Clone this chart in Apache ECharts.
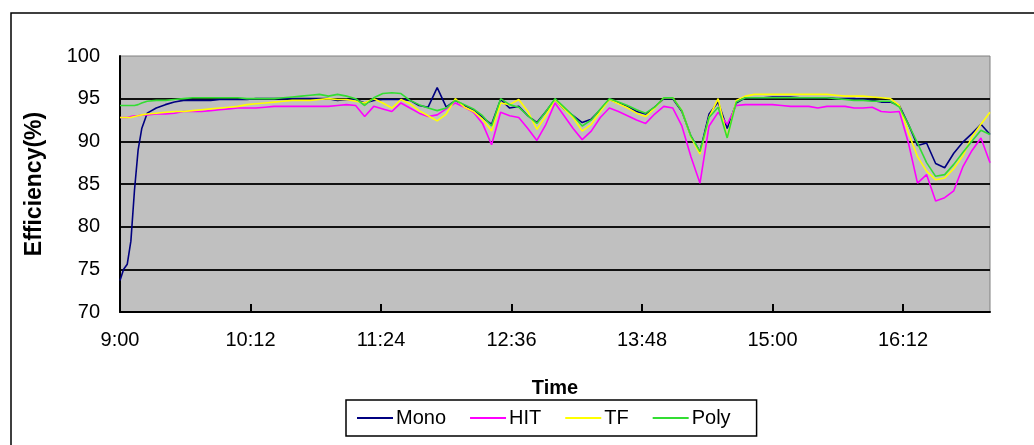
<!DOCTYPE html>
<html>
<head>
<meta charset="utf-8">
<script src="https://cdn.jsdelivr.net/npm/echarts@6/dist/echarts.min.js"></script>
<style>
html,body{margin:0;padding:0;background:#fff;}
#chart{width:1034px;height:445px;}
</style>
</head>
<body>
<div id="chart"></div>
<script>
// minutes after 9:00
var times = [0, 2, 4, 6, 8, 10, 12,
  15, 20, 25, 30, 35, 40, 45, 50, 55, 60,
  65, 70, 75, 80, 85, 90, 95, 100, 105, 110,
  115, 120, 125, 130, 135, 140, 145, 150, 155, 160,
  165, 170, 175, 180, 185, 190, 195, 200, 205, 210,
  215, 220, 225, 230, 235, 240, 245, 250, 255, 260,
  265, 270, 275, 280, 285, 290, 295, 300, 305, 310,
  315, 320, 325, 330, 335, 340, 345, 350, 355, 360,
  365, 370, 375, 380, 385, 390, 395, 400, 405, 410,
  415, 420, 425, 430, 435, 440, 445, 450, 455, 460,
  465, 470, 475, 480];

var mono = [73.7, 75.0, 75.6, 78.3, 84.3, 89.0, 91.5,
  93.3, 93.9, 94.3, 94.6, 94.8, 94.8, 94.8, 94.8, 94.9, 94.9,
  94.9, 94.9, 95.0, 95.0, 95.0, 95.0, 95.0, 95.0, 95.0, 95.0,
  95.0, 94.8, 94.9, 94.9, 94.5, 94.8, 94.9, 94.9, 94.9, 94.8,
  94.2, 94.0, 96.3, 94.0, 94.8, 94.2, 93.7, 92.8, 92.0, 94.9,
  93.9, 94.1, 93.0, 92.2, 93.5, 94.9, 93.8, 93.0, 92.2, 92.6,
  93.7, 94.9, 94.5, 94.1, 93.5, 93.2, 94.0, 95.0, 95.0, 93.5,
  90.6, 88.8, 93.2, 94.6, 91.5, 94.5, 95.1, 95.1, 95.1, 95.2,
  95.2, 95.2, 95.1, 95.1, 95.1, 95.1, 95.0, 95.0, 95.0, 94.9,
  94.8, 94.6, 94.6, 94.2, 92.0, 89.5, 89.8, 87.4, 86.9, 88.6,
  89.9, 90.9, 92.0, 90.8];

var hit = [92.8, 92.8, 92.8, 92.9, 93.0, 93.0, 93.1,
  93.1, 93.2, 93.2, 93.3, 93.5, 93.5, 93.5, 93.6, 93.7, 93.8,
  93.9, 93.9, 93.9, 94.0, 94.1, 94.1, 94.1, 94.1, 94.1, 94.1,
  94.1, 94.2, 94.3, 94.2, 92.9, 94.1, 93.8, 93.5, 94.5, 93.9,
  93.3, 92.9, 93.1, 93.8, 94.5, 94.0, 93.4, 92.1, 89.6, 93.4,
  93.0, 92.8, 91.5, 90.1, 92.0, 94.5, 93.0, 91.5, 90.2, 91.2,
  92.8, 93.9, 93.5, 93.0, 92.5, 92.1, 93.2, 94.1, 93.9, 91.8,
  88.2, 85.1, 91.8, 93.4, 92.0, 94.2, 94.3, 94.3, 94.3, 94.3,
  94.2, 94.1, 94.1, 94.1, 93.9, 94.1, 94.1, 94.1, 93.9, 93.9,
  94.0, 93.5, 93.4, 93.5, 89.8, 85.1, 86.1, 83.0, 83.4, 84.2,
  87.0, 88.9, 90.4, 87.5];

var tf = [92.8, 92.8, 92.8, 92.8, 92.9, 93.0, 93.1,
  93.2, 93.3, 93.4, 93.5, 93.5, 93.6, 93.7, 93.8, 93.9, 94.0,
  94.1, 94.3, 94.4, 94.5, 94.6, 94.7, 94.8, 94.8, 94.8, 94.9,
  95.0, 94.9, 94.9, 94.7, 94.5, 95.0, 94.5, 93.9, 94.9, 94.4,
  93.6, 93.0, 92.4, 93.2, 95.0, 94.0, 93.5, 92.6, 91.2, 94.5,
  94.3, 94.9, 93.5, 91.4, 93.0, 94.9, 93.8, 92.8, 91.2, 92.0,
  93.5, 94.9, 94.4, 93.9, 93.3, 92.9, 93.9, 95.1, 95.1, 93.6,
  90.5, 88.5, 92.8, 95.0, 90.4, 94.8, 95.3, 95.5, 95.5, 95.5,
  95.5, 95.5, 95.5, 95.5, 95.5, 95.5, 95.4, 95.3, 95.3, 95.3,
  95.2, 95.1, 95.0, 94.2, 91.0, 88.2, 86.5, 85.5, 85.7, 86.8,
  88.3, 90.5, 92.0, 93.4];

var poly = [94.2, 94.2, 94.2, 94.2, 94.2, 94.3, 94.5,
  94.7, 94.8, 94.8, 94.9, 95.0, 95.1, 95.1, 95.1, 95.1, 95.1,
  95.1, 95.0, 95.0, 95.0, 95.0, 95.1, 95.2, 95.3, 95.4, 95.5,
  95.3, 95.5, 95.3, 95.0, 94.2, 95.1, 95.6, 95.7, 95.6, 94.8,
  94.3, 93.9, 93.6, 93.9, 94.8, 94.3, 93.8, 93.0, 91.8, 95.0,
  94.3, 94.0, 93.0, 92.1, 93.5, 95.0, 94.0, 93.0, 91.8, 92.5,
  93.8, 95.0, 94.6, 94.2, 93.7, 93.3, 94.0, 95.1, 95.1, 93.6,
  90.6, 88.8, 92.8, 94.0, 90.4, 94.6, 95.1, 95.1, 95.1, 95.1,
  95.1, 95.1, 95.1, 95.1, 95.1, 95.1, 95.0, 94.9, 94.8, 94.8,
  94.7, 94.7, 94.7, 94.0, 92.0, 89.8, 87.5, 85.9, 86.1, 87.3,
  88.7, 90.0, 91.3, 90.8];

var seriesNames = ['Mono', 'HIT', 'TF', 'Poly'];
var seriesColors = ['#000080', '#ff00ff', '#ffff00', '#33dd33'];
var seriesValues = [mono, hit, tf, poly];

function pairs(vals) {
  return times.map(function (t, i) { return [t, vals[i]]; });
}
function fmtTime(v) {
  var h = 9 + Math.floor(v / 60);
  var m = Math.round(v % 60);
  return h + ':' + (m < 10 ? '0' + m : m);
}

var FONT = 'Liberation Sans, Arial, sans-serif';
var chart = echarts.init(document.getElementById('chart'), null, {renderer: 'canvas'});
chart.setOption({
  animation: false,
  backgroundColor: '#ffffff',
  graphic: [{
    type: 'rect', z: -1,
    shape: {x: 11, y: 13, width: 1060, height: 480},
    style: {fill: 'none', stroke: '#000', lineWidth: 1.5}
  }],
  grid: {
    left: 120, right: 44, top: 56, bottom: 133,
    show: true, backgroundColor: '#c0c0c0', borderColor: '#808080', borderWidth: 1
  },
  legend: {
    data: seriesNames,
    left: 346, top: 400,
    icon: 'rect', itemWidth: 36, itemHeight: 2, itemGap: 24,
    borderColor: '#000', borderWidth: 1.5,
    padding: [8, 26, 8, 11],
    textStyle: {fontFamily: FONT, fontSize: 20, color: '#000', padding: [0, 0, 0, -2]}
  },
  xAxis: {
    type: 'value', min: 0, max: 480, interval: 72,
    name: 'Time', nameLocation: 'middle', nameGap: 66,
    nameTextStyle: {fontFamily: FONT, fontSize: 20, fontWeight: 'bold', color: '#000'},
    axisLine: {show: true, onZero: false, lineStyle: {color: '#000', width: 2}},
    axisTick: {show: true, inside: true, length: 8, lineStyle: {color: '#000', width: 2}},
    axisLabel: {fontFamily: FONT, fontSize: 20, color: '#000', margin: 18, showMaxLabel: false,
      formatter: fmtTime},
    splitLine: {show: false}
  },
  yAxis: {
    type: 'value', min: 70, max: 100, interval: 5,
    name: 'Efficiency(%)', nameLocation: 'middle', nameGap: 74, nameRotate: 90,
    nameTextStyle: {fontFamily: FONT, fontSize: 23, fontWeight: 'bold', color: '#000'},
    axisLine: {show: true, lineStyle: {color: '#000', width: 2}},
    axisTick: {show: false},
    axisLabel: {fontFamily: FONT, fontSize: 20, color: '#000', margin: 20},
    splitLine: {show: true, showMaxLine: false, showMinLine: false, lineStyle: {color: '#111', width: 2}}
  },
  series: seriesNames.map(function (n, i) {
    return {
      name: n, type: 'line', data: pairs(seriesValues[i]),
      showSymbol: false, symbol: 'none',
      lineStyle: {color: seriesColors[i], width: 1.6},
      itemStyle: {color: seriesColors[i]}
    };
  })
});
</script>
</body>
</html>
